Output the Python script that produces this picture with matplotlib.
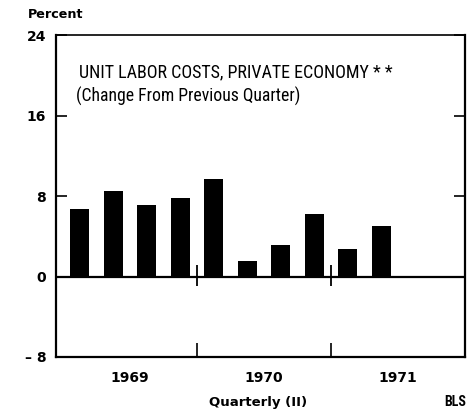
import matplotlib
matplotlib.use("Agg")
import matplotlib.pyplot as plt

# quarterly change in unit labor costs, percent (1969 Q1 .. 1971 Q2)
quarters = [0.5, 1.5, 2.5, 3.5, 4.5, 5.5, 6.5, 7.5, 8.5, 9.5]
values = [6.7, 8.5, 7.1, 7.8, 9.7, 1.5, 3.1, 6.2, 2.7, 5.0]
years = ['1969', '1970', '1971']
year_pos = [2, 6, 10]
year_breaks = [4, 8]
yticks = [-8, 0, 8, 16, 24]

cond = ['Roboto Condensed', 'DejaVu Sans']

fig = plt.figure(figsize=(4.76, 4.11), dpi=100)
ax = fig.add_axes([0.1176, 0.1314, 0.9769 - 0.1176, 0.9148 - 0.1314])

ax.bar(quarters, values, width=0.57, color='black', zorder=3)
ax.axhline(0, color='black', lw=1.6, zorder=2)
ax.vlines(year_breaks, -0.9, 1.1, color='black', lw=1.3)

ax.set_xlim(-0.21, 12)
ax.set_ylim(-8, 24)

ax.set_yticks(yticks)
ax.set_yticklabels([str(v) if v >= 0 else '\u2013 ' + str(-v) for v in yticks],
                   fontsize=10, fontweight='bold')
ax.tick_params(axis='y', direction='in', length=8, width=1.2, pad=7,
               right=True, left=True)
ax.set_xticks(year_pos)
ax.set_xticklabels(years, fontsize=10, fontweight='bold')
ax.set_xticks(year_breaks, minor=True)
ax.tick_params(axis='x', which='major', length=0, pad=10)
ax.tick_params(axis='x', which='minor', direction='in', length=10, width=1.2)

for side in ['left', 'right', 'bottom']:
    ax.spines[side].set_linewidth(1.6)
ax.spines['top'].set_linewidth(1.2)

ax.text(0.056, 0.885, 'UNIT LABOR COSTS, PRIVATE ECONOMY * *', transform=ax.transAxes,
        family=cond, fontsize=13, va='center', ha='left')
ax.text(0.049, 0.81, '(Change From Previous Quarter)', transform=ax.transAxes,
        family=cond, fontsize=12.7, va='center', ha='left')

fig.text(28 / 476, 1 - 15 / 411, 'Percent', fontsize=9.2, fontweight='bold',
         va='center', ha='left')
fig.text(258 / 476, 1 - 402 / 411, 'Quarterly (II)', fontsize=9.5, fontweight='bold',
         va='center', ha='center')
fig.text(466 / 476, 1 - 402 / 411, 'BLS', family=cond, fontsize=10, fontweight='bold',
         va='center', ha='right')

fig.savefig('out.png', dpi=100)
